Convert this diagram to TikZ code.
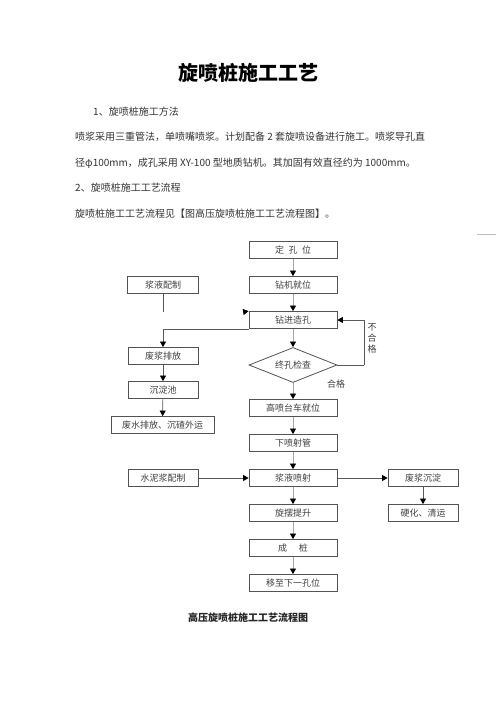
\documentclass[tikz,border=0pt]{standalone}
\usepackage{fontspec}
\newfontfamily\cjk{Noto Sans CJK SC}
\usetikzlibrary{shapes.geometric,arrows.meta}

\tikzset{
  stepbox/.style={draw=gray!65!black, line width=0.8pt, minimum height=17pt,
    inner sep=0pt, text=black!75, font=\cjk\fontsize{9}{10}\selectfont},
  checkbox/.style={stepbox, diamond, aspect=2.5, minimum width=88pt, minimum height=35pt},
  arr/.style={draw=gray!70, line width=0.7pt, -{Triangle[width=6pt,length=5.5pt,color=black]}},
  link/.style={draw=gray!70!black, line width=0.7pt},
  bodytext/.style={anchor=west, inner sep=0pt, text=black!80, font=\cjk\fontsize{10}{11}\selectfont}
}

\begin{document}
\begin{tikzpicture}[x=1pt, y=-1pt]

    % Page frame
    \useasboundingbox (0,0) rectangle (496,702);
    \fill[white] (0,0) rectangle (496,702);

    % Heading and text above the chart
    \node[font=\cjk\fontsize{20}{22}\selectfont\bfseries] (title) at (248,73) {旋喷桩施工工艺};
    \node[bodytext] (sec1) at (93,112) {1、旋喷桩施工方法};
    \node[bodytext] (par1) at (75,137) {喷浆采用三重管法，单喷嘴喷浆。计划配备 2 套旋喷设备进行施工。喷浆导孔直};
    \node[bodytext] (par2) at (75,163) {径φ100mm，成孔采用 XY-100 型地质钻机。其加固有效直径约为 1000mm。};
    \node[bodytext] (sec2) at (75,188) {2、旋喷桩施工工艺流程};
    \node[bodytext] (par3) at (75,214) {旋喷桩施工工艺流程见【图高压旋喷桩施工工艺流程图】。};

    % Mark at the right margin
    \draw[gray!50, line width=0.6pt] (477,234) -- (496,234);

    % Main column
    \node[stepbox, minimum width=88pt] (dkw) at (293,250) {定\hspace{0.5em}孔\hspace{0.5em}位};
    \node[stepbox, minimum width=88pt] (zjjw) at (293,285) {钻机就位};
    \node[stepbox, minimum width=88pt] (zjzk) at (293,320) {钻进造孔};
    \node[checkbox] (zkjc) at (293,365) {终孔检查};
    \node[stepbox, minimum width=88pt] (gptc) at (293,408) {高喷台车就位};
    \node[stepbox, minimum width=88pt] (xpsg) at (293,443) {下喷射管};
    \node[stepbox, minimum width=88pt] (jyps) at (293,478) {浆液喷射};
    \node[stepbox, minimum width=88pt] (xbts) at (293,513) {旋摆提升};
    \node[stepbox, minimum width=88pt] (cz) at (293,548) {成\hspace{1.3em}桩};
    \node[stepbox, minimum width=88pt] (yzxk) at (293,583) {移至下一孔位};

    % Left column
    \node[stepbox, minimum width=71pt] (jypz) at (163,285) {浆液配制};
    \node[stepbox, minimum width=70pt] (fjpf) at (163,356) {废浆排放};
    \node[stepbox, minimum width=70pt] (cdc) at (163,390) {沉淀池};
    \node[stepbox, minimum width=103pt] (fspf) at (162.5,425) {废水排放、沉碴外运};
    \node[stepbox, minimum width=70pt] (snjpz) at (163,478) {水泥浆配制};

    % Right column
    \node[stepbox, minimum width=70pt] (fjcd) at (423,478) {废浆沉淀};
    \node[stepbox, minimum width=70pt] (yhqy) at (423,513) {硬化、清运};

    % Main flow
    \draw[arr] (dkw) -- (zjjw);
    \draw[arr] (zjjw) -- (zjzk);
    \draw[arr] (zjzk) -- (zkjc);
    \draw[arr] (zkjc) -- (gptc);
    \draw[arr] (gptc) -- (xpsg);
    \draw[arr] (xpsg) -- (jyps);
    \draw[arr] (jyps) -- (xbts);
    \draw[arr] (xbts) -- (cz);
    \draw[arr] (cz) -- (yzxk);

    % Return loop when the hole fails the check
    \coordinate (loop) at (364,365);
    \draw[link] (zkjc.east) -- (loop);
    \draw[arr, draw=gray!70!black] (loop) |- (zjzk.east);
    \node[font=\cjk\fontsize{9}{11}\selectfont, text=black!75, align=center] (bhg) at (372,338) {不\\合\\格};
    \node[font=\cjk\fontsize{9}{10}\selectfont, text=black!75] (hg) at (336,384) {合格};

    % Slurry side branch
    \coordinate (jyend) at (163,312);
    \draw[link] (jypz.south) -- (jyend);
    \coordinate (jyin) at (243,312);
    \draw[arr, draw=gray!70!black] (jyin) -- (zjzk.north west);
    \draw[arr, draw=gray!70!black] (zjzk.south west) -| (fjpf.north);
    \draw[arr, draw=gray!70!black] (fjpf) -- (cdc);
    \draw[arr, draw=gray!70!black] (cdc) -- (fspf);

    % Cement slurry and waste slurry
    \draw[arr, draw=gray!70!black] (snjpz) -- (jyps);
    \draw[arr, draw=gray!70!black] (jyps) -- (fjcd);
    \draw[arr, draw=gray!70!black] (fjcd) -- (yhqy);

    % Caption
    \node[font=\cjk\fontsize{10}{12}\selectfont\bfseries, text=black!85] (cap) at (248,618) {高压旋喷桩施工工艺流程图};

\end{tikzpicture}
\end{document}
